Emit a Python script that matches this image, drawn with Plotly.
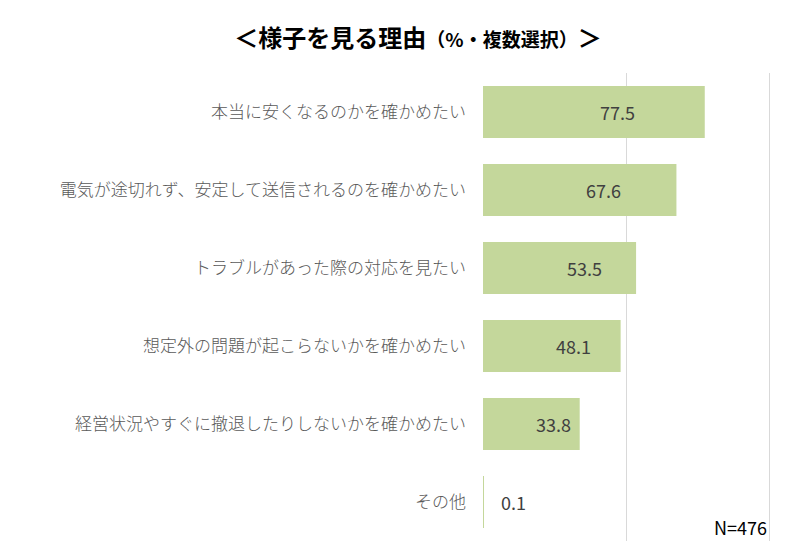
import plotly.graph_objects as go

categories = [
    "本当に安くなるのかを確かめたい",
    "電気が途切れず、安定して送信されるのを確かめたい",
    "トラブルがあった際の対応を見たい",
    "想定外の問題が起こらないかを確かめたい",
    "経営状況やすぐに撤退したりしないかを確かめたい",
    "その他",
]
values = [77.5, 67.6, 53.5, 48.1, 33.8, 0.1]
value_labels = ["77.5", "67.6", "53.5", "48.1", "33.8", "0.1"]
label_x = [46.9, 42.0, 35.3, 31.8, 24.5, 10.5]

FONT = "Noto Sans CJK JP"

fig = go.Figure()
fig.add_trace(go.Bar(
    y=categories, x=values, orientation="h",
    marker=dict(color="#C4D79B", line=dict(width=0)),
    hoverinfo="skip",
))

for cat, lx, lab in zip(categories, label_x, value_labels):
    fig.add_annotation(x=lx, y=cat, text=lab, showarrow=False,
                       xanchor="center", yanchor="middle",
                       font=dict(family=FONT, size=18, color="#404040"))

fig.add_annotation(x=100, y=0.0, xref="x", yref="paper",
                   text="N=476", showarrow=False, xanchor="right", yanchor="bottom",
                   yshift=-1, font=dict(family=FONT, size=18, color="#000000"))

fig.update_layout(
    width=800, height=559,
    margin=dict(l=475, r=36, t=65, b=26),
    paper_bgcolor="white", plot_bgcolor="white",
    bargap=0.333,
    showlegend=False,
    title=dict(
        text="<b>＜様子を見る理由<span style='font-size:19px'>（%・複数選択）</span>＞</b>",
        x=0.5125, xanchor="center", y=0.945, yanchor="middle",
        font=dict(family=FONT, size=24, color="#000000"),
    ),
    xaxis=dict(range=[0, 101], tickvals=[0, 50, 100], showgrid=True, gridcolor="#D9D9D9",
               gridwidth=1, zeroline=False, showticklabels=False, showline=False),
    yaxis=dict(autorange="reversed", showgrid=False, showline=False,
               tickfont=dict(family=FONT, size=17, color="#595959", weight=300),
               ticklabelstandoff=16),
)

fig.write_html("out.html")
